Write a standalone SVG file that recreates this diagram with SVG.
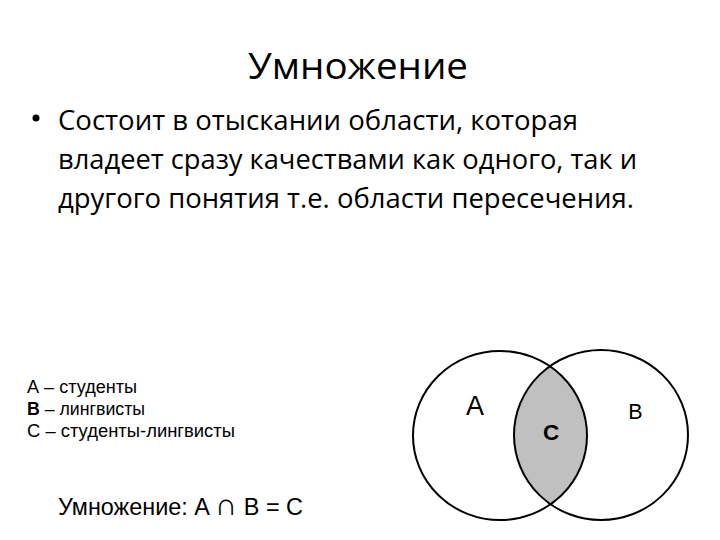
<svg xmlns="http://www.w3.org/2000/svg" width="720" height="540" viewBox="0 0 720 540">
<style>
.t{font-family:"Open Sans","Liberation Sans",sans-serif;fill:#000}
.a{font-family:"Liberation Sans",Arial,sans-serif;fill:#000}
.c{fill:none;stroke:#000;stroke-width:2}
</style>
<defs>
<clipPath id="clipA"><ellipse cx="500" cy="435.5" rx="87" ry="84.5"/></clipPath>
</defs>
<rect width="720" height="540" fill="#fff"/>
<g id="title"><text class="t" x="358" y="79" font-size="37" text-anchor="middle" textLength="220" lengthAdjust="spacingAndGlyphs">Умножение</text></g>
<g id="body">
<circle cx="36" cy="118" r="3.5" fill="#000"/>
<text class="t" x="58" y="130" font-size="27" textLength="520" lengthAdjust="spacingAndGlyphs">Состоит в отыскании области, которая</text>
<text class="t" x="58" y="169" font-size="27" textLength="579" lengthAdjust="spacingAndGlyphs">владеет сразу качествами как одного, так и</text>
<text class="t" x="58" y="208" font-size="27" textLength="576" lengthAdjust="spacingAndGlyphs">другого понятия т.е. области пересечения.</text>
</g>
<g id="legend">
<text class="a" x="27" y="393" font-size="17.5" textLength="110" lengthAdjust="spacingAndGlyphs">А – студенты</text>
<text class="a" x="27" y="415" font-size="17.5" textLength="118" lengthAdjust="spacingAndGlyphs"><tspan font-weight="bold">В</tspan> – лингвисты</text>
<text class="a" x="27" y="437" font-size="17.5" textLength="208" lengthAdjust="spacingAndGlyphs">С – студенты-лингвисты</text>
<text class="a" x="58" y="515" font-size="23.5" textLength="245" lengthAdjust="spacingAndGlyphs">Умножение: A <tspan font-size="31">∩</tspan> B = C</text>
</g>
<g id="venn">
<ellipse cx="601" cy="435" rx="87" ry="85" fill="#c0c0c0" clip-path="url(#clipA)"/>
<ellipse id="circleA" class="c" cx="500" cy="435.5" rx="87" ry="84.5"/>
<ellipse id="circleB" class="c" cx="601" cy="435" rx="87" ry="85"/>
<text class="a" x="475" y="415" font-size="27" text-anchor="middle">A</text>
<text class="a" x="635.5" y="419" font-size="21.5" text-anchor="middle">B</text>
<text class="a" x="551" y="440" font-size="22.5" font-weight="bold" text-anchor="middle">C</text>
</g>
</svg>
